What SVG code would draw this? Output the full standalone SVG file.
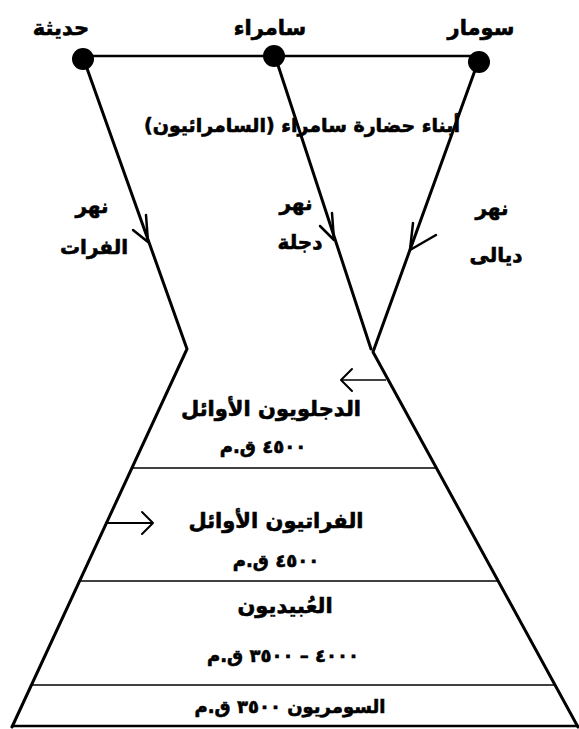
<svg xmlns="http://www.w3.org/2000/svg" width="579" height="729" viewBox="0 0 579 729">
<style>
.t{font-family:"DejaVu Sans","Noto Sans",sans-serif;font-weight:bold;fill:#000;stroke:#000;stroke-width:0.6;text-anchor:middle;direction:rtl}
.ln{stroke:#000;stroke-width:3;fill:none;stroke-linecap:round;stroke-linejoin:round}
.ar{stroke:#000;stroke-width:2.5;fill:none;stroke-linecap:round;stroke-linejoin:round}
.dv{stroke:#000;stroke-width:1.6;fill:none}
</style>
<rect width="579" height="729" fill="#fff"/>
<g id="connectors">
<line class="ln" x1="84" y1="56" x2="478" y2="56" style="stroke-width:2.5"/>
<polyline class="ln" points="84,60 187,349 12,727"/>
<line class="ln" x1="275" y1="56" x2="371" y2="349"/>
<polyline class="ln" points="478,62 373,352 578,727"/>
<polyline class="ar" points="146,215 148,242 133,230"/>
<polyline class="ar" points="332,213 334,240 320,226"/>
<polyline class="ar" points="413,223 410,250 436,235"/>
<line class="dv" x1="341" y1="380" x2="386" y2="380"/>
<polyline class="ar" points="352,369 341,380 352,391" style="stroke-width:2"/>
<line class="dv" x1="106" y1="523" x2="153" y2="523" style="stroke-width:2"/>
<polyline class="ar" points="142,512 153,523 142,534" style="stroke-width:2"/>
</g>
<g id="node-haditha">
<circle cx="83" cy="59" r="11"/>
<text class="t" x="61" y="35" font-size="21">حديثة</text>
</g>
<g id="node-samarra">
<circle cx="274" cy="56" r="11"/>
<text class="t" x="270" y="35" font-size="21">سامراء</text>
</g>
<g id="node-sumar">
<circle cx="479" cy="62" r="11"/>
<text class="t" x="481" y="35" font-size="21">سومار</text>
</g>
<g id="label-samarrans">
<text class="t" x="302" y="132" font-size="19">أبناء حضارة سامراء (السامرائيون)</text>
</g>
<g id="label-euphrates">
<text class="t" x="92" y="213" font-size="20">نهر</text>
<text class="t" x="94" y="254" font-size="20">الفرات</text>
</g>
<g id="label-tigris">
<text class="t" x="296" y="210" font-size="20">نهر</text>
<text class="t" x="300" y="249" font-size="20">دجلة</text>
</g>
<g id="label-diyala">
<text class="t" x="492" y="215" font-size="20">نهر</text>
<text class="t" x="496" y="262" font-size="20">ديالى</text>
</g>
<g id="funnel">
<line class="dv" x1="132" y1="468" x2="436" y2="468"/>
<line class="dv" x1="78" y1="581" x2="498" y2="581"/>
<line class="dv" x1="30" y1="685" x2="555" y2="685"/>
<line class="ln" x1="12" y1="726" x2="578" y2="726" style="stroke-width:2.5"/>
</g>
<g id="section-tigrisians">
<text class="t" x="271" y="416" font-size="21">الدجلويون الأوائل</text>
<text class="t" x="263" y="453" font-size="18">٤٥٠٠ ق.م</text>
</g>
<g id="section-euphratians">
<text class="t" x="276" y="528" font-size="21">الفراتيون الأوائل</text>
<text class="t" x="276" y="567" font-size="18">٤٥٠٠ ق.م</text>
</g>
<g id="section-ubaid">
<text class="t" x="285" y="613" font-size="21">العُبيديون</text>
<text class="t" x="283" y="662" font-size="18">٤٠٠٠ – ٣٥٠٠ ق.م</text>
</g>
<g id="section-sumerians">
<text class="t" x="290" y="713" font-size="18">السومريون ٣٥٠٠ ق.م</text>
</g>
</svg>
